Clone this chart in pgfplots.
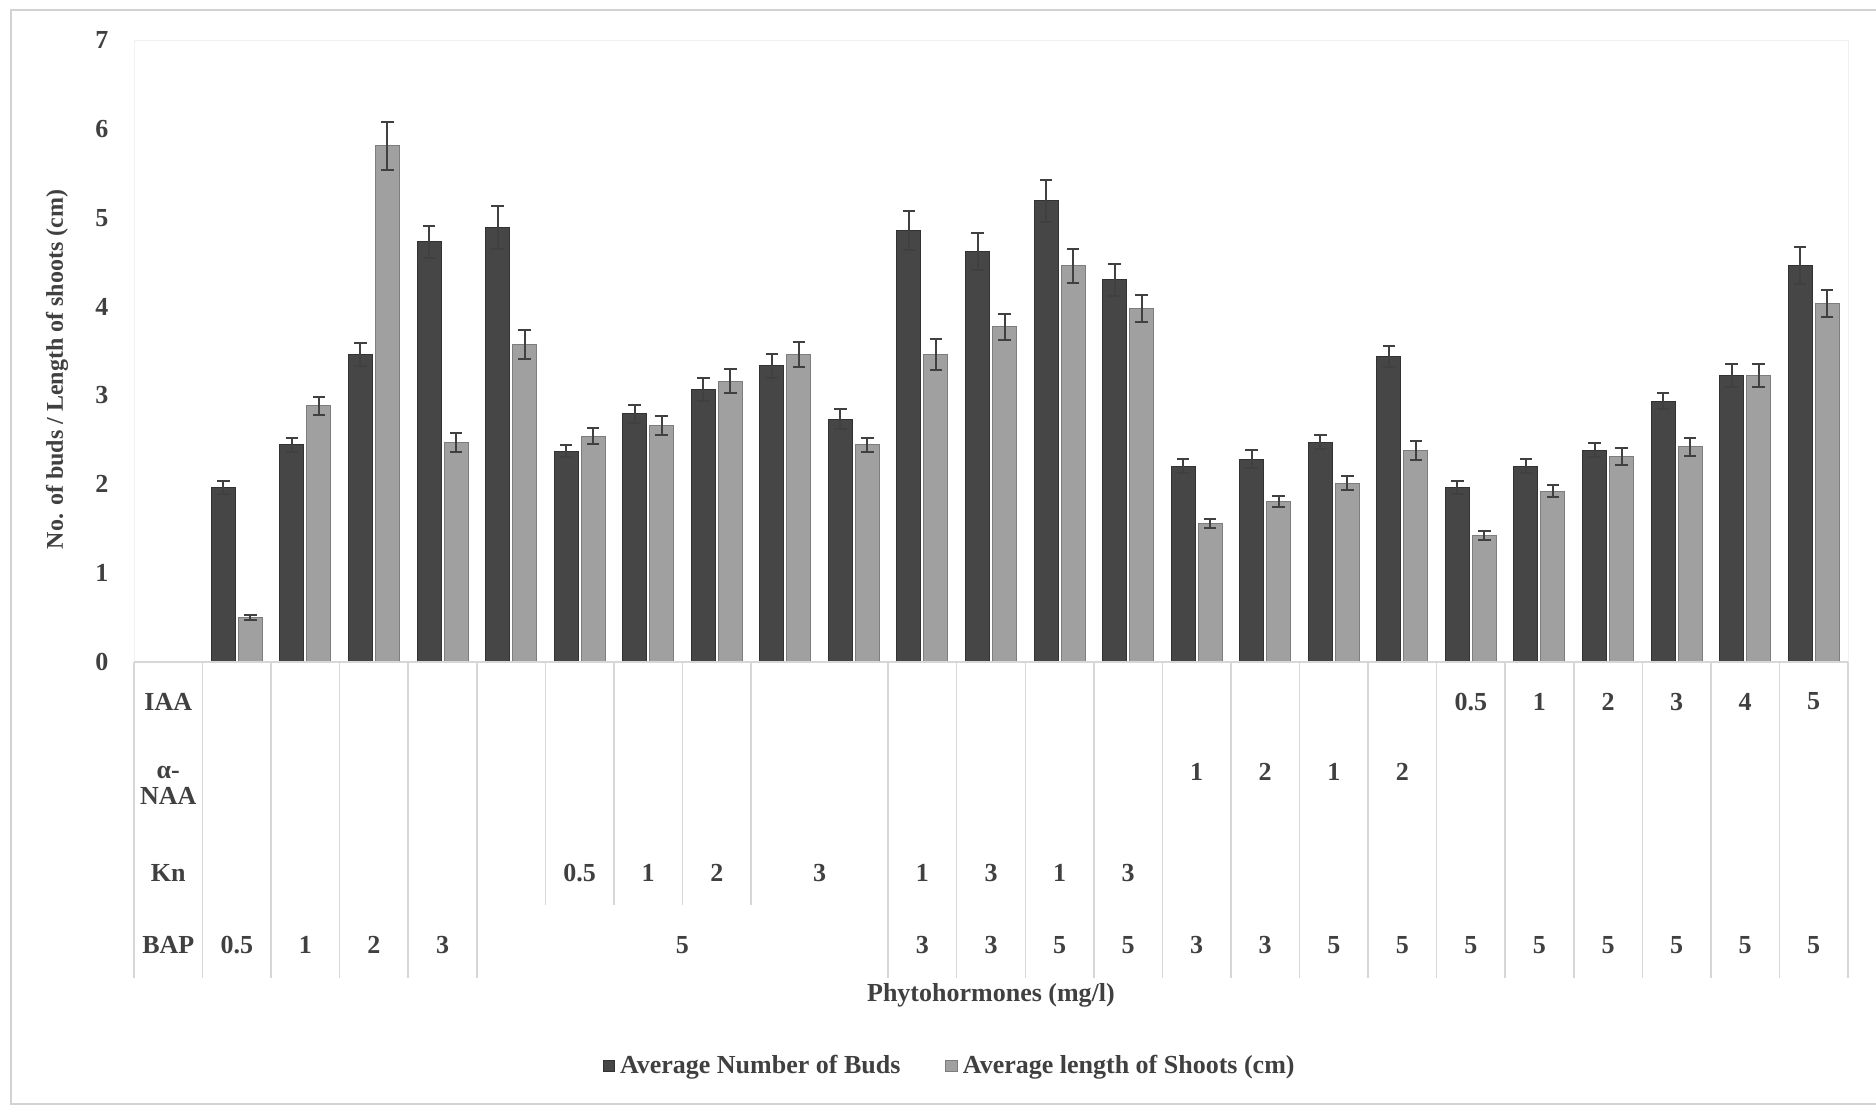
\documentclass[border=0pt]{standalone}
\usepackage{fontspec}
\setmainfont{Liberation Serif}
\usepackage{pgfplots}
\usepackage{pgfplotstable}
\pgfplotsset{compat=1.18}
\definecolor{txt}{RGB}{64,64,64}
\definecolor{darkbar}{RGB}{70,70,70}
\definecolor{darkedge}{RGB}{50,50,50}
\definecolor{lightbar}{RGB}{160,160,160}
\definecolor{lightedge}{RGB}{125,125,125}
\definecolor{gridc}{RGB}{215,215,215}

\pgfplotstableread{
x dark derr light lerr
1 1.96 0.07 0.50 0.03
2 2.44 0.08 2.88 0.10
3 3.46 0.13 5.81 0.27
4 4.73 0.18 2.47 0.11
5 4.89 0.24 3.57 0.16
6 2.37 0.07 2.54 0.09
7 2.79 0.10 2.66 0.11
8 3.06 0.13 3.16 0.14
9 3.33 0.13 3.46 0.14
10 2.73 0.11 2.44 0.08
11 4.86 0.22 3.46 0.17
12 4.62 0.21 3.77 0.15
13 5.19 0.24 4.46 0.19
14 4.30 0.18 3.98 0.15
15 2.20 0.08 1.56 0.05
16 2.28 0.10 1.80 0.06
17 2.47 0.08 2.01 0.08
18 3.44 0.12 2.38 0.11
19 1.96 0.07 1.42 0.05
20 2.20 0.08 1.92 0.07
21 2.38 0.08 2.31 0.10
22 2.93 0.09 2.42 0.10
23 3.22 0.13 3.22 0.13
24 4.46 0.21 4.03 0.15
}\data

\newcommand{\lbl}{\fontsize{10.4}{12}\selectfont\bfseries}

\begin{document}
\begin{tikzpicture}[font=\lbl]
\useasboundingbox (-53.6pt,-177.76pt) rectangle (696.8pt,264.64pt);
\draw[gray!35, line width=0.6pt] (700pt,260.64pt) -- (-49.2pt,260.64pt) -- (-49.2pt,-176.96pt) -- (700pt,-176.96pt);
\begin{axis}[
  at={(0pt,0pt)}, anchor=south west,
  scale only axis, width=685.6pt, height=248.6pt,
  xmin=-0.5, xmax=24.5, ymin=0, ymax=7,
  ybar=1.2pt, bar width=9.6pt,
  xtick=\empty, ytick={0,1,2,3,4,5,6,7},
  ytick style={draw=none},
  /pgf/number format/assume math mode=true,
  yticklabel style={anchor=center, xshift=-12.8pt, font=\lbl, text=txt},
  axis line style={draw=black!6},
  ylabel={No. of buds / Length of shoots (cm)},
  ylabel style={at={(axis description cs:-0.0449,0.47)}, anchor=center, font=\fontsize{9.6}{11}\selectfont\bfseries, text=txt},
  clip=false,
  legend style={at={(0.4767,-0.651)}, anchor=center, draw=none, fill=none,
    font=\lbl, text=txt, /tikz/every even column/.append style={column sep=16pt}},
  legend columns=2,
  legend image code/.code={\fill[#1] (0pt,-2.2pt) rectangle (4.6pt,2.4pt);},
  error bars/y dir=both, error bars/y explicit,
  error bars/error bar style={line width=0.8pt, color=txt},
  error bars/error mark options={rotate=90, line width=0.8pt, mark size=2.5pt, color=txt},
]
\addplot[fill=darkbar, draw=darkedge]
  table[x=x, y=dark, y error=derr] {\data};
\addlegendentry{Average Number of Buds}
\addplot[fill=lightbar, draw=lightedge]
  table[x=x, y=light, y error=lerr] {\data};
\addlegendentry{Average length of Shoots (cm)}

% table grid
\draw[gridc, line width=0.8pt] (axis cs:-0.5,0) -- (axis cs:24.5,0);
\draw[gridc, line width=0.6pt]
  (axis cs:-0.5,0) -- (axis cs:-0.5,-3.567)
  (axis cs:0.5,0) -- (axis cs:0.5,-3.567)
  (axis cs:1.5,0) -- (axis cs:1.5,-3.567)
  (axis cs:2.5,0) -- (axis cs:2.5,-3.567)
  (axis cs:3.5,0) -- (axis cs:3.5,-3.567)
  (axis cs:4.5,0) -- (axis cs:4.5,-3.567)
  (axis cs:5.5,0) -- (axis cs:5.5,-2.74)
  (axis cs:6.5,0) -- (axis cs:6.5,-2.74)
  (axis cs:7.5,0) -- (axis cs:7.5,-2.74)
  (axis cs:8.5,0) -- (axis cs:8.5,-2.74)
  (axis cs:10.5,0) -- (axis cs:10.5,-3.567)
  (axis cs:11.5,0) -- (axis cs:11.5,-3.567)
  (axis cs:12.5,0) -- (axis cs:12.5,-3.567)
  (axis cs:13.5,0) -- (axis cs:13.5,-3.567)
  (axis cs:14.5,0) -- (axis cs:14.5,-3.567)
  (axis cs:15.5,0) -- (axis cs:15.5,-3.567)
  (axis cs:16.5,0) -- (axis cs:16.5,-3.567)
  (axis cs:17.5,0) -- (axis cs:17.5,-3.567)
  (axis cs:18.5,0) -- (axis cs:18.5,-3.567)
  (axis cs:19.5,0) -- (axis cs:19.5,-3.567)
  (axis cs:20.5,0) -- (axis cs:20.5,-3.567)
  (axis cs:21.5,0) -- (axis cs:21.5,-3.567)
  (axis cs:22.5,0) -- (axis cs:22.5,-3.567)
  (axis cs:23.5,0) -- (axis cs:23.5,-3.567)
  (axis cs:24.5,0) -- (axis cs:24.5,-3.567);

\begin{scope}[every node/.style={text=txt, font=\lbl}]
% row labels
\node at (axis cs:0,-0.45) {IAA};
\node[align=center, font=\fontsize{10.4}{10.5}\selectfont\bfseries] at (axis cs:0,-1.39) {α-\\NAA};
\node at (axis cs:0,-2.38) {Kn};
\node at (axis cs:0,-3.19) {BAP};
% IAA row
\node at (axis cs:19,-0.45) {0.5};
\node at (axis cs:20,-0.45) {1};
\node at (axis cs:21,-0.45) {2};
\node at (axis cs:22,-0.45) {3};
\node at (axis cs:23,-0.45) {4};
\node at (axis cs:24,-0.45) {5};
% NAA row
\node at (axis cs:15,-1.24) {1};
\node at (axis cs:16,-1.24) {2};
\node at (axis cs:17,-1.24) {1};
\node at (axis cs:18,-1.24) {2};
% Kn row
\node at (axis cs:6,-2.38) {0.5};
\node at (axis cs:7,-2.38) {1};
\node at (axis cs:8,-2.38) {2};
\node at (axis cs:9.5,-2.38) {3};
\node at (axis cs:11,-2.38) {1};
\node at (axis cs:12,-2.38) {3};
\node at (axis cs:13,-2.38) {1};
\node at (axis cs:14,-2.38) {3};
% BAP row
\node at (axis cs:1,-3.19) {0.5};
\node at (axis cs:2,-3.19) {1};
\node at (axis cs:3,-3.19) {2};
\node at (axis cs:4,-3.19) {3};
\node at (axis cs:7.5,-3.19) {5};
\node at (axis cs:11,-3.19) {3};
\node at (axis cs:12,-3.19) {3};
\node at (axis cs:13,-3.19) {5};
\node at (axis cs:14,-3.19) {5};
\node at (axis cs:15,-3.19) {3};
\node at (axis cs:16,-3.19) {3};
\node at (axis cs:17,-3.19) {5};
\node at (axis cs:18,-3.19) {5};
\node at (axis cs:19,-3.19) {5};
\node at (axis cs:20,-3.19) {5};
\node at (axis cs:21,-3.19) {5};
\node at (axis cs:22,-3.19) {5};
\node at (axis cs:23,-3.19) {5};
\node at (axis cs:24,-3.19) {5};
\node at (axis cs:12,-3.76) {Phytohormones (mg/l)};
\end{scope}
\end{axis}
\end{tikzpicture}
\end{document}
